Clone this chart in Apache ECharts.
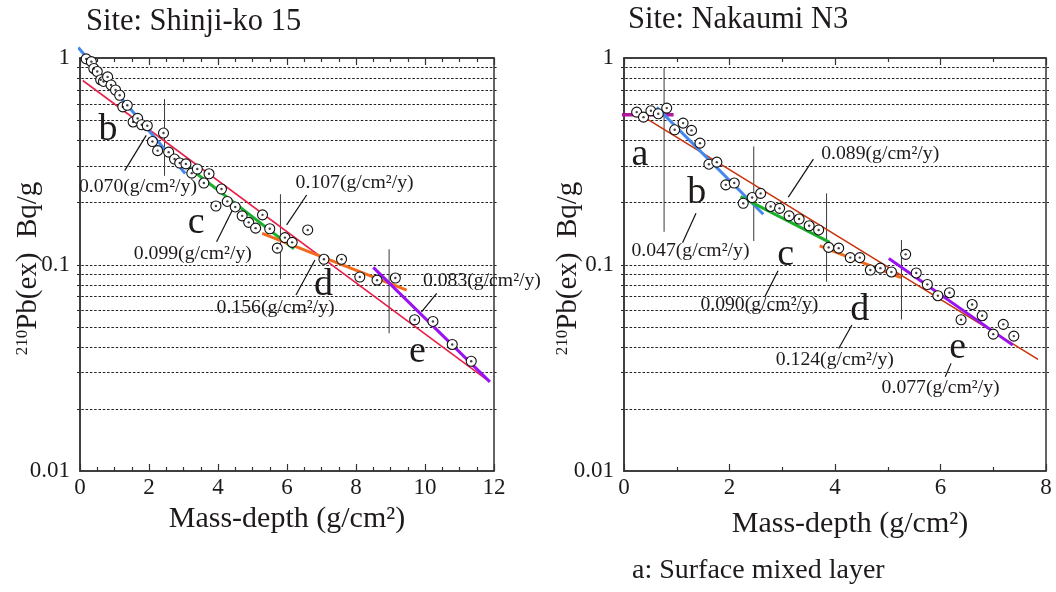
<!DOCTYPE html>
<html>
<head>
<meta charset="utf-8">
<title>Excess 210Pb profiles</title>
<script src="https://cdn.jsdelivr.net/npm/echarts@6/dist/echarts.min.js"></script>
<style>
  html, body { margin: 0; padding: 0; background: #fff; }
  #chart { width: 1056px; height: 592px; }
</style>
</head>
<body>
<div id="chart"></div>
<script>
// ---- Site: Shinji-ko 15 — mass depth (g/cm²) and excess 210Pb (Bq/g) ----
const shinjiDepth = [0.18, 0.33, 0.40, 0.50, 0.60, 0.68, 0.80, 0.90, 1.03, 1.15,
  1.24, 1.37, 1.54, 1.67, 1.79, 1.95, 2.10, 2.25, 2.42, 2.57,
  2.74, 2.89, 3.07, 3.24, 3.40, 3.59, 3.74, 3.94, 4.10, 4.27,
  4.50, 4.70, 4.89, 5.09, 5.29, 5.50, 5.72, 5.94, 6.15, 6.60,
  7.07, 7.58, 8.11, 8.61, 9.14, 9.70, 10.23, 10.79, 11.34];
const shinjiPb = [0.99, 0.96, 0.89, 0.86, 0.785, 0.77, 0.81, 0.74, 0.70, 0.66,
  0.58, 0.59, 0.49, 0.51, 0.475, 0.47, 0.394, 0.356, 0.433, 0.35,
  0.324, 0.31, 0.307, 0.277, 0.29, 0.248, 0.275, 0.192, 0.232, 0.202,
  0.19, 0.172, 0.16, 0.15, 0.174, 0.149, 0.12, 0.135, 0.128, 0.147,
  0.106, 0.106, 0.087, 0.084, 0.086, 0.054, 0.053, 0.041, 0.034];

// fitted segments: [start, end] as [depth, activity]
const shinjiFitB = [[-0.05, 1.125], [3.05, 0.276]];
const shinjiFitC = [[3.15, 0.295], [6.20, 0.119]];
const shinjiFitD = [[5.28, 0.1416], [9.47, 0.0752]];
const shinjiFitE = [[8.50, 0.0969], [11.88, 0.027]];
const shinjiFitAll = [[0.08, 0.778], [11.79, 0.0277]];
const shinjiZones = ['b', 'c', 'd', 'e'];
// sedimentation rates (g/cm²/y): b, c, d, e, whole core
const shinjiRates = ['0.070', '0.099', '0.156', '0.083', '0.107'];
// zone boundaries: depth, activity span
const shinjiBounds = [[2.45, 0.633, 0.269], [5.81, 0.219, 0.085], [8.96, 0.1185, 0.0464]];

// ---- Site: Nakaumi N3 ----
const nakaumiDepth = [0.24, 0.37, 0.51, 0.65, 0.81, 0.96, 1.12, 1.28, 1.44, 1.61,
  1.76, 1.93, 2.09, 2.26, 2.43, 2.59, 2.78, 2.95, 3.13, 3.32,
  3.51, 3.69, 3.88, 4.07, 4.29, 4.47, 4.67, 4.86, 5.07, 5.34,
  5.54, 5.75, 5.95, 6.17, 6.39, 6.60, 6.79, 7.00, 7.19, 7.39];
const nakaumiPb = [0.547, 0.517, 0.555, 0.537, 0.572, 0.449, 0.484, 0.446, 0.387, 0.306,
  0.313, 0.243, 0.248, 0.198, 0.211, 0.221, 0.191, 0.187, 0.172, 0.166,
  0.154, 0.147, 0.121, 0.120, 0.108, 0.108, 0.094, 0.096, 0.092, 0.112,
  0.091, 0.080, 0.0706, 0.073, 0.054, 0.064, 0.0565, 0.046, 0.0513, 0.045];

const nakaumiFitA = [[-0.08, 0.531], [0.94, 0.531]];
const nakaumiFitB = [[0.62, 0.577], [2.64, 0.175]];
const nakaumiFitC = [[2.21, 0.213], [3.90, 0.128]];
const nakaumiFitD = [[3.71, 0.123], [5.25, 0.0863]];
const nakaumiFitE = [[5.02, 0.107], [7.37, 0.0407]];
const nakaumiFitAll = [[0.38, 0.517], [7.85, 0.0347]];
const nakaumiZones = ['a', 'b', 'c', 'd', 'e'];
// sedimentation rates (g/cm²/y): b, c, d, e, whole core
const nakaumiRates = ['0.047', '0.090', '0.124', '0.077', '0.089'];
const nakaumiBounds = [[0.76, 0.894, 0.144], [2.46, 0.373, 0.130], [3.84, 0.221, 0.0825], [5.26, 0.1315, 0.0542]];

// axis ticks
const yGridValues = [0.02, 0.03, 0.04, 0.05, 0.06, 0.07, 0.08, 0.09, 0.1,
  0.2, 0.3, 0.4, 0.5, 0.6, 0.7, 0.8, 0.9];
const yTickLabels = { 0.01: '0.01', 0.1: '0.1', 1: '1' };

// ---- annotation placement (in axis units) ----
const shinjiRateAt = [[1.68, 0.238], [3.27, 0.1124], [5.67, 0.062], [11.65, 0.0835], [7.96, 0.249]];
const shinjiLeaders = [[[1.295, 0.285], [1.92, 0.4217]], [[3.96, 0.129], [4.49, 0.194]],
  [[6.26, 0.0711], [6.81, 0.1052]], [[9.90, 0.059], [10.34, 0.0725]], [[5.99, 0.1555], [6.57, 0.217]]];
const shinjiZoneAt = [[0.81, 0.449], [3.37, 0.158], [7.06, 0.0796], [9.78, 0.0378]];

const nakaumiRateAt = [[1.26, 0.1166], [2.567, 0.0641], [3.996, 0.0347], [6.002, 0.0254], [4.857, 0.3434]];
const nakaumiLeaders = [[[1.11, 0.1276], [1.365, 0.177]], [[2.67, 0.0698], [2.92, 0.0933]],
  [[4.07, 0.0392], [4.32, 0.0509]], [[6.09, 0.0286], [6.20, 0.0332]], [[3.115, 0.212], [3.59, 0.324]]];
const nakaumiZoneAt = [[0.303, 0.340], [1.378, 0.2214], [3.064, 0.1112], [4.47, 0.0602], [6.326, 0.0392]];

// ---- styling ----
const FONT = 'Liberation Serif';
const INK = '#1f1a1a';
const AXIS = '#333';
const COL = { a: '#b0179e', b: '#4488ee', c: '#19b02c', d: '#f26a1b', e: '#9a12f2' };

function pairs(xs, ys) { return xs.map((x, i) => [x, ys[i]]); }

function segment(ax, pts, color, width, z) {
  return {
    type: 'line', xAxisIndex: ax, yAxisIndex: ax, data: pts,
    symbol: 'none', clip: false, silent: true, z: z,
    lineStyle: { color: color, width: width, cap: 'butt' }
  };
}

// centred text placed at axis coordinates
function texts(ax, labels, at, size) {
  return {
    type: 'custom', xAxisIndex: ax, yAxisIndex: ax, silent: true, z: 8, clip: false,
    data: at,
    renderItem: function (params, api) {
      const p = api.coord([api.value(0), api.value(1)]);
      return {
        type: 'text', x: p[0], y: p[1],
        style: {
          text: labels[params.dataIndex], fill: INK, fontFamily: FONT, fontSize: size,
          align: 'center', verticalAlign: 'middle'
        }
      };
    }
  };
}

function gridLines(ax) {
  return {
    type: 'custom', xAxisIndex: ax, yAxisIndex: ax, silent: true, z: 1,
    data: yGridValues.map(v => [0, v]),
    renderItem: function (params, api) {
      const cs = params.coordSys;
      const y = Math.round(api.coord([0, api.value(1)])[1]) + 0.5;
      return {
        type: 'line',
        shape: { x1: cs.x - 3, y1: y, x2: cs.x + cs.width + 3, y2: y },
        style: { stroke: '#222', lineWidth: 1, lineDash: [2.5, 1.8] }
      };
    }
  };
}

function panelSeries(ax, depth, pb, fits, fitAll, allColor, zones, zoneAt, rates, rateAt, leaders, bounds) {
  const s = [gridLines(ax)];
  bounds.forEach(b => s.push(segment(ax, [[b[0], b[1]], [b[0], b[2]]], '#3a3a3a', 1, 3)));
  leaders.forEach(l => s.push(segment(ax, l, '#111', 1.2, 3)));
  s.push(segment(ax, fitAll, allColor, 1.6, 4));
  fits.forEach(f => s.push(segment(ax, f[1], COL[f[0]], f[0] === 'a' ? 3.5 : 3, 5)));
  const pts = pairs(depth, pb);
  s.push({
    type: 'scatter', xAxisIndex: ax, yAxisIndex: ax, data: pts, symbol: 'circle', symbolSize: 10,
    silent: true, z: 6, itemStyle: { color: '#fff', borderColor: '#111', borderWidth: 1.1, opacity: 1 }
  });
  s.push({
    type: 'scatter', xAxisIndex: ax, yAxisIndex: ax, data: pts, symbol: 'circle', symbolSize: 2.4,
    silent: true, z: 7, itemStyle: { color: '#111' }
  });
  s.push(texts(ax, zones, zoneAt, 38));
  s.push(texts(ax, rates.map(r => r + '(g/cm²/y)'), rateAt, 19.7));
  return s;
}

function xAxes(grid, max, minorSplit, nameGap, namePad) {
  const common = {
    type: 'value', gridIndex: grid, min: 0, max: max, interval: 2,
    axisLine: { show: true, onZero: false, lineStyle: { color: AXIS, width: 1.5 } },
    axisTick: { show: true, inside: true, length: 7, lineStyle: { color: AXIS, width: 1.2 } },
    minorTick: { show: true, splitNumber: minorSplit, length: 4, lineStyle: { color: AXIS, width: 1.2 } },
    splitLine: { show: false }, minorSplitLine: { show: false }
  };
  return [
    Object.assign({}, common, {
      position: 'bottom',
      axisLabel: { fontFamily: FONT, fontSize: 23, color: INK, margin: 5 },
      name: 'Mass-depth (g/cm²)', nameLocation: 'middle', nameGap: nameGap, nameMoveOverlap: false,
      nameTextStyle: { fontFamily: FONT, fontSize: 30, color: INK, padding: namePad }
    }),
    Object.assign({}, common, { position: 'top', axisLabel: { show: false } })
  ];
}

function yAxis(grid, nameGap) {
  return {
    type: 'log', logBase: 10, gridIndex: grid, min: 0.01, max: 1,
    axisLine: { show: true, lineStyle: { color: AXIS, width: 1.5 } },
    axisTick: { show: false }, splitLine: { show: false },
    axisLabel: {
      fontFamily: FONT, fontSize: 23, color: INK, margin: 10,
      formatter: v => yTickLabels[+v.toPrecision(2)] || ''
    },
    name: '{sup|210}{m|Pb(ex)  Bq/g}', nameLocation: 'middle', nameGap: nameGap, nameMoveOverlap: false,
    nameTextStyle: {
      fontFamily: FONT, color: INK, padding: [0, 8, 0, 0],
      rich: {
        sup: { fontFamily: FONT, fontSize: 17, color: INK, verticalAlign: 'top', lineHeight: 29 },
        m: { fontFamily: FONT, fontSize: 29, color: INK, lineHeight: 29 }
      }
    }
  };
}

const chart = echarts.init(document.getElementById('chart'), null, { renderer: 'canvas' });

const xa = xAxes(0, 12, 4, 33, 0).concat(xAxes(1, 8, 2, 38, [0, 0, 0, 30]));
const titleFont = { fontFamily: FONT, fontSize: 30.5, fontWeight: 'normal', color: INK };
const panelFrame = { show: true, borderColor: AXIS, borderWidth: 1.5, backgroundColor: 'transparent',
  containLabel: false, outerBoundsMode: 'none' };

chart.setOption({
  animation: false,
  backgroundColor: '#fff',
  title: [
    { text: 'Site: Shinji-ko 15', left: 86, top: 6, padding: 0, textStyle: titleFont },
    { text: 'Site: Nakaumi N3', left: 628, top: 4, padding: 0, textStyle: titleFont },
    { text: 'a: Surface mixed layer', left: 632, top: 557, padding: 0,
      textStyle: { fontFamily: FONT, fontSize: 28, fontWeight: 'normal', color: INK } }
  ],
  grid: [
    Object.assign({ left: 80, top: 58, width: 414, height: 413 }, panelFrame),
    Object.assign({ left: 624, top: 58, width: 422, height: 413 }, panelFrame)
  ],
  // bottom/top pairs per panel; series use indices 0 and 2
  xAxis: xa,
  yAxis: [yAxis(0, 37), yAxis(1, 41)],
  series: []
});

function withAxes(list, xi, yi) {
  return list.map(s => Object.assign(s, { xAxisIndex: xi, yAxisIndex: yi }));
}

const left = withAxes(panelSeries(0, shinjiDepth, shinjiPb,
  [['b', shinjiFitB], ['c', shinjiFitC], ['d', shinjiFitD], ['e', shinjiFitE]],
  shinjiFitAll, '#e8204c', shinjiZones, shinjiZoneAt, shinjiRates, shinjiRateAt, shinjiLeaders, shinjiBounds), 0, 0);
const right = withAxes(panelSeries(1, nakaumiDepth, nakaumiPb,
  [['a', nakaumiFitA], ['b', nakaumiFitB], ['c', nakaumiFitC], ['d', nakaumiFitD], ['e', nakaumiFitE]],
  nakaumiFitAll, '#c8340c', nakaumiZones, nakaumiZoneAt, nakaumiRates, nakaumiRateAt, nakaumiLeaders, nakaumiBounds), 2, 1);

chart.setOption({ series: left.concat(right) });
</script>
</body>
</html>
